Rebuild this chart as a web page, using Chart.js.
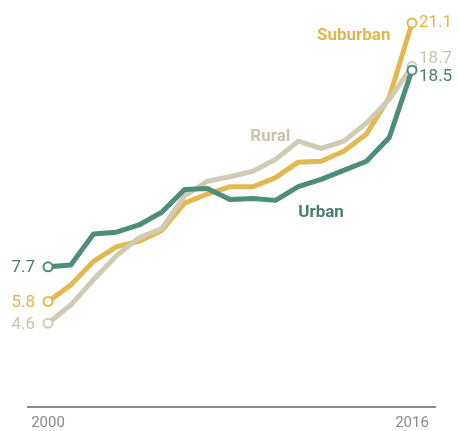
<!DOCTYPE html>
<html lang="en">
<head>
    <meta charset="UTF-8">
    <title>Urban, suburban, rural</title>
    <script src="https://cdn.jsdelivr.net/npm/chart.js"></script>
    <style>
        html, body { margin: 0; padding: 0; background: #fff; }
        .wrap { width: 459px; height: 431px; position: relative; }
    </style>
</head>
<body>
    <div class="wrap">
        <canvas id="myChart" width="459" height="431"></canvas>
    </div>
    <script>
        const years = [2000, 2001, 2002, 2003, 2004, 2005, 2006, 2007, 2008, 2009, 2010, 2011, 2012, 2013, 2014, 2015, 2016];
        const urban = [7.7, 7.8, 9.5, 9.6, 10.0, 10.7, 11.95, 12.0, 11.4, 11.45, 11.35, 12.1, 12.5, 13.0, 13.5, 14.8, 18.5];
        const suburban = [5.8, 6.7, 8.0, 8.8, 9.1, 9.7, 11.2, 11.7, 12.1, 12.1, 12.6, 13.45, 13.5, 14.05, 15.0, 17.0, 21.1];
        const rural = [4.6, 5.6, 7.0, 8.3, 9.3, 9.8, 11.6, 12.4, 12.65, 12.95, 13.6, 14.6, 14.2, 14.6, 15.6, 16.9, 18.7];
        const tickYears = [2000, 2016];

        const colors = {
            urban: '#4e8c7b',
            suburban: '#e2b94f',
            rural: '#d0cbb4'
        };
        const textColors = {
            urban: '#4b7c72',
            suburban: '#e0b64d',
            rural: '#c9c3ac'
        };

        const last = years.length - 1;

        function makeSet(label, values, key, order) {
            return {
                label: label,
                data: values.map((v, i) => ({ x: years[i], y: v })),
                borderColor: colors[key],
                borderWidth: 5,
                borderJoinStyle: 'round',
                tension: 0,
                order: order,
                pointRadius: (c) => (c.dataIndex === 0 || c.dataIndex === last) ? 4.5 : 0,
                pointBorderWidth: 2,
                pointBorderColor: colors[key],
                pointBackgroundColor: '#fff',
                pointHoverRadius: 0
            };
        }

        // end labels and series names, placed through the scales
        const labelsPlugin = {
            id: 'labels',
            afterDatasetsDraw(chart) {
                const c = chart.ctx;
                const xs = chart.scales.x;
                const ys = chart.scales.y;
                const keys = ['urban', 'suburban', 'rural'];
                const endOffsets = { urban: 7, suburban: 0, rural: -8 };
                c.save();
                c.textBaseline = 'middle';
                c.font = '17px Roboto, "Liberation Sans", sans-serif';
                keys.forEach((key, i) => {
                    const meta = chart.getDatasetMeta(i);
                    const first = meta.data[0];
                    const end = meta.data[last];
                    const vals = chart.data.datasets[i].data;
                    c.fillStyle = textColors[key];
                    c.textAlign = 'right';
                    c.fillText(vals[0].y.toFixed(1), first.x - 13, first.y + 1);
                    c.textAlign = 'left';
                    c.fillText(vals[last].y.toFixed(1), end.x + 7, end.y + endOffsets[key]);
                });

                c.font = 'bold 17px Roboto, "Liberation Sans", sans-serif';
                c.fillStyle = textColors.suburban;
                c.textAlign = 'right';
                c.fillText('Suburban', xs.getPixelForValue(2015.05), ys.getPixelForValue(20.4));
                c.fillStyle = textColors.rural;
                c.fillText('Rural', xs.getPixelForValue(2010.65), ys.getPixelForValue(14.85));
                c.fillStyle = textColors.urban;
                c.textAlign = 'left';
                c.fillText('Urban', xs.getPixelForValue(2011.0), ys.getPixelForValue(10.65));
                c.restore();
            }
        };

        const ctx = document.getElementById('myChart').getContext('2d');

        const chart = new Chart(ctx, {
            type: 'line',
            data: {
                datasets: [
                    makeSet('Urban', urban, 'urban', 0),
                    makeSet('Suburban', suburban, 'suburban', 2),
                    makeSet('Rural', rural, 'rural', 1)
                ]
            },
            options: {
                responsive: false,
                animation: false,
                events: [],
                layout: {
                    padding: { left: 28, right: 24, top: 0, bottom: 0 }
                },
                plugins: {
                    legend: { display: false },
                    tooltip: { enabled: false }
                },
                scales: {
                    x: {
                        type: 'linear',
                        min: 1999.12,
                        max: 2017.01,
                        afterBuildTicks: (axis) => {
                            axis.ticks = tickYears.map(v => ({ value: v }));
                        },
                        afterFit: (axis) => {
                            axis.height = 24;
                        },
                        grid: { display: false, drawTicks: false },
                        border: { display: true, color: '#8c8c8c', width: 2 },
                        ticks: {
                            autoSkip: false,
                            maxRotation: 0,
                            padding: 7,
                            color: '#8a8a8a',
                            font: { family: 'Roboto, "Liberation Sans", sans-serif', size: 15 },
                            callback: (v) => String(v)
                        }
                    },
                    y: {
                        display: false,
                        min: 0,
                        max: 22
                    }
                }
            },
            plugins: [labelsPlugin]
        });
    </script>
</body>
</html>
